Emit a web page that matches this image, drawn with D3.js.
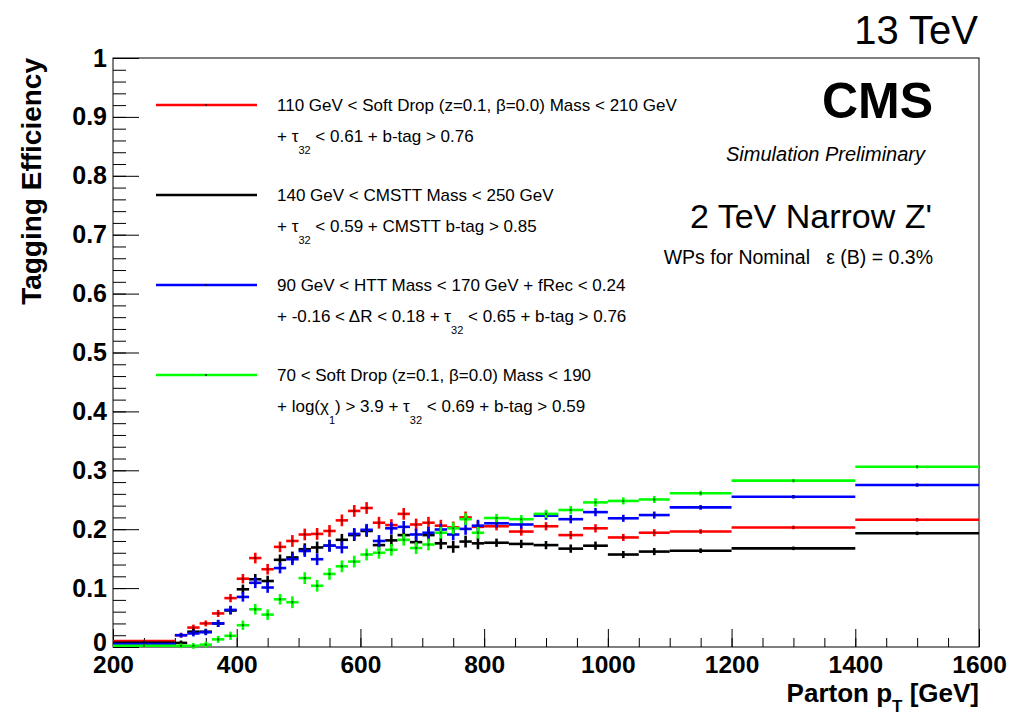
<!DOCTYPE html>
<html>
<head>
<meta charset="utf-8">
<script src="https://cdn.jsdelivr.net/npm/d3@7"></script>
<style>
  body { margin: 0; background: #fff; }
  text { font-family: "Liberation Sans", Arial, Helvetica, sans-serif; }
</style>
</head>
<body>
<svg id="chart" width="1011" height="715"></svg>
<script>
// Bin edges in parton pT [GeV]
const binEdges = [200, 300, 320, 340, 360, 380, 400, 420, 440, 460, 480, 500, 520, 540, 560, 580,
  600, 620, 640, 660, 680, 700, 720, 740, 760, 780, 800, 840, 880, 920, 960, 1000,
  1050, 1100, 1200, 1400, 1600];

// Tagging efficiency per bin for each working point
const effSoftDrop = [0.010, 0.020, 0.033, 0.040, 0.057, 0.083, 0.116, 0.151, 0.132, 0.170,
  0.180, 0.191, 0.192, 0.197, 0.215, 0.231, 0.236, 0.211, 0.207, 0.226, 0.208, 0.211,
  0.206, 0.203, 0.220, 0.204, 0.205, 0.196, 0.205, 0.190, 0.2015, 0.186, 0.194, 0.196,
  0.203, 0.216];
const effCMSTT = [0.007, 0.007, 0.026, 0.026, 0.040, 0.062, 0.098, 0.115, 0.112, 0.148,
  0.152, 0.166, 0.169, 0.172, 0.182, 0.190, 0.197, 0.173, 0.181, 0.190, 0.178, 0.190,
  0.176, 0.170, 0.179, 0.176, 0.177, 0.175, 0.173, 0.167, 0.172, 0.157, 0.162, 0.1635,
  0.1675, 0.193];
const effHTT = [0.005, 0.020, 0.023, 0.025, 0.040, 0.063, 0.085, 0.109, 0.101, 0.134,
  0.149, 0.163, 0.149, 0.172, 0.169, 0.192, 0.199, 0.180, 0.2015, 0.204, 0.191, 0.194,
  0.1995, 0.191, 0.2005, 0.206, 0.210, 0.208, 0.223, 0.217, 0.229, 0.2185, 0.224, 0.237,
  0.255, 0.275];
const effSoftDropChi = [0.002, 0.002, 0.002, 0.004, 0.013, 0.019, 0.037, 0.064, 0.055, 0.081,
  0.076, 0.117, 0.104, 0.124, 0.137, 0.145, 0.157, 0.160, 0.165, 0.182, 0.168, 0.174,
  0.194, 0.2015, 0.217, 0.194, 0.219, 0.217, 0.226, 0.2326, 0.2455, 0.248, 0.2505, 0.261,
  0.2824, 0.306];

// Statistical uncertainty per bin
const effErr = [0.002, 0.004, 0.005, 0.005, 0.006, 0.007, 0.008, 0.009, 0.009, 0.009,
  0.010, 0.010, 0.010, 0.010, 0.010, 0.010, 0.010, 0.010, 0.010, 0.010, 0.010, 0.010,
  0.010, 0.010, 0.010, 0.010, 0.007, 0.007, 0.007, 0.007, 0.007, 0.006, 0.006, 0.004,
  0.003, 0.003];

const xTicks = [200, 400, 600, 800, 1000, 1200, 1400, 1600];
const yTicks = [0, 0.1, 0.2, 0.3, 0.4, 0.5, 0.6, 0.7, 0.8, 0.9, 1];

const series = [
  { values: effSoftDrop, color: "#ff0000",
    line1: "110 GeV < Soft Drop (z=0.1, \u03b2=0.0) Mass < 210 GeV",
    line2: [["+ \u03c4"], ["32", true], [" < 0.61 + b-tag > 0.76"]] },
  { values: effCMSTT, color: "#000000",
    line1: "140 GeV < CMSTT Mass < 250 GeV",
    line2: [["+ \u03c4"], ["32", true], [" < 0.59 + CMSTT b-tag > 0.85"]] },
  { values: effHTT, color: "#0000ff",
    line1: "90 GeV < HTT Mass < 170 GeV + fRec < 0.24",
    line2: [["+ -0.16 < \u0394R < 0.18 + \u03c4"], ["32", true], [" < 0.65 + b-tag > 0.76"]] },
  { values: effSoftDropChi, color: "#00ff00",
    line1: "70 < Soft Drop (z=0.1, \u03b2=0.0) Mass < 190",
    line2: [["+ log(\u03c7"], ["1", true], [") > 3.9 + \u03c4"], ["32", true], [" < 0.69 + b-tag > 0.59"]] }
];

const svg = d3.select("#chart");
const plot = { left: 113, right: 979, top: 58, bottom: 647 };
const x = d3.scaleLinear().domain([200, 1600]).range([plot.left, plot.right]);
const y = d3.scaleLinear().domain([0, 1]).range([plot.bottom, plot.top]);

// Frame
svg.append("rect")
  .attr("x", plot.left).attr("y", plot.top)
  .attr("width", plot.right - plot.left).attr("height", plot.bottom - plot.top)
  .attr("fill", "none").attr("stroke", "#000").attr("stroke-width", 1);

// X axis: minor ticks every 50 GeV, major ticks with labels
const gxMinor = svg.append("g").attr("transform", `translate(0,${plot.bottom})`)
  .call(d3.axisBottom(x).tickValues(d3.range(200, 1601, 50)).tickSize(-9).tickFormat(""));
const gx = svg.append("g").attr("transform", `translate(0,${plot.bottom})`)
  .call(d3.axisBottom(x).tickValues(xTicks).tickSize(-18).tickPadding(8).tickFormat(d3.format("d")));
[gxMinor, gx].forEach(g => { g.select(".domain").remove(); g.selectAll("line").attr("stroke", "#000"); });
gx.selectAll("text").attr("font-size", 24.5).attr("font-weight", "bold").attr("fill", "#000")
  .attr("dy", "0.72em");

// Y axis: minor ticks every 0.02, major every 0.1
const gyMinor = svg.append("g").attr("transform", `translate(${plot.left},0)`)
  .call(d3.axisLeft(y).tickValues(d3.range(0, 51).map(i => i / 50)).tickSize(-13).tickFormat(""));
const gy = svg.append("g").attr("transform", `translate(${plot.left},0)`)
  .call(d3.axisLeft(y).tickValues(yTicks).tickSize(-26).tickPadding(6)
    .tickFormat(v => (v === 0 || v === 1) ? String(v) : v.toFixed(1)));
[gyMinor, gy].forEach(g => { g.select(".domain").remove(); g.selectAll("line").attr("stroke", "#000"); });
gy.selectAll("text").attr("font-size", 25).attr("font-weight", "bold").attr("fill", "#000");
gy.selectAll("text").filter(v => v === 0).attr("dy", "0.14em");

// Axis titles
const xTitle = svg.append("text").attr("x", plot.right).attr("y", 702)
  .attr("text-anchor", "end").attr("font-size", 26).attr("font-weight", "bold");
xTitle.append("tspan").text("Parton p");
xTitle.append("tspan").attr("dy", 10).attr("font-size", 17).text("T");
xTitle.append("tspan").attr("dy", -10).text(" [GeV]");

svg.append("text")
  .attr("transform", `translate(41,${plot.top}) rotate(-90)`)
  .attr("text-anchor", "end").attr("font-size", 28).attr("font-weight", "bold")
  .text("Tagging Efficiency");

// Data: horizontal bars span the bin, vertical bars show the uncertainty
series.forEach(s => {
  const g = svg.append("g").attr("stroke", s.color).attr("stroke-width", 2.6);
  const bins = s.values.map((v, i) => ({ lo: binEdges[i], hi: binEdges[i + 1], v, e: effErr[i] }));
  g.selectAll("line.h").data(bins).join("line").attr("class", "h")
    .attr("x1", d => x(d.lo)).attr("x2", d => x(d.hi))
    .attr("y1", d => y(d.v)).attr("y2", d => y(d.v));
  g.selectAll("line.v").data(bins).join("line").attr("class", "v")
    .attr("x1", d => x((d.lo + d.hi) / 2)).attr("x2", d => x((d.lo + d.hi) / 2))
    .attr("y1", d => y(d.v - d.e)).attr("y2", d => y(d.v + d.e));
  svg.append("g").selectAll("rect").data(bins).join("rect")
    .attr("x", d => x((d.lo + d.hi) / 2) - 1).attr("y", d => y(d.v) - 1)
    .attr("width", 2).attr("height", 2).attr("fill", "#000").attr("opacity", 0.6);
});

// Legend
const legendTop = [105, 195, 285, 375];
series.forEach((s, i) => {
  const ly = legendTop[i];
  svg.append("line").attr("x1", 156).attr("x2", 257).attr("y1", ly).attr("y2", ly)
    .attr("stroke", s.color).attr("stroke-width", 2.6);
  svg.append("rect").attr("x", 205).attr("y", ly - 1).attr("width", 2).attr("height", 2)
    .attr("fill", "#000").attr("opacity", 0.6);
  svg.append("text").attr("x", 277).attr("y", ly + 6).attr("font-size", 17)
    .style("white-space", "pre").text(s.line1);
  const t = svg.append("text").attr("x", 277).attr("y", ly + 37).attr("font-size", 17)
    .style("white-space", "pre");
  let down = false;
  s.line2.forEach(([str, sub]) => {
    const ts = t.append("tspan").text(str);
    if (sub) { ts.attr("font-size", 11).attr("dy", 12); down = true; }
    else if (down) { ts.attr("dy", -12); down = false; }
  });
});

// Labels
svg.append("text").attr("x", 978).attr("y", 44).attr("text-anchor", "end")
  .attr("font-size", 40).text("13 TeV");
svg.append("text").attr("x", 933).attr("y", 118).attr("text-anchor", "end")
  .attr("font-size", 50).attr("font-weight", "bold").text("CMS");
svg.append("text").attr("x", 925).attr("y", 161).attr("text-anchor", "end")
  .attr("font-size", 20).attr("font-style", "italic").text("Simulation Preliminary");
svg.append("text").attr("x", 932).attr("y", 228).attr("text-anchor", "end")
  .attr("font-size", 34).text("2 TeV Narrow Z'");
svg.append("text").attr("x", 933).attr("y", 264).attr("text-anchor", "end")
  .attr("font-size", 19.5).style("white-space", "pre").text("WPs for Nominal   \u03b5 (B) = 0.3%");
</script>
</body>
</html>
